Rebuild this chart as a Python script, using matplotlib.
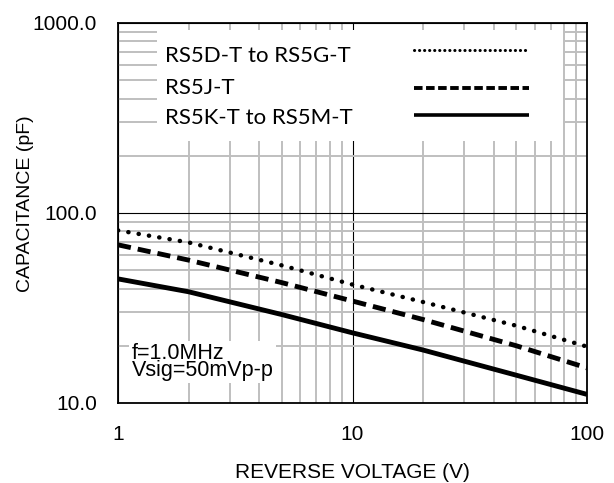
import matplotlib
matplotlib.use("Agg")
import matplotlib.pyplot as plt
from matplotlib.patches import Rectangle
from matplotlib.ticker import LogLocator, FixedLocator, NullFormatter

# ---------------------------------------------------------------------------
# Data
# ---------------------------------------------------------------------------
voltage = [1, 2, 5, 10, 20, 50, 100]
cap_d_to_g = [81, 70, 53, 42, 34, 25.5, 19.8]   # dotted
cap_j = [68, 56.5, 43, 34.4, 27.5, 20, 15.3]     # dashed
cap_k_to_m = [45, 38.5, 29.2, 23.4, 19.0, 14.0, 11.1]  # solid

series_names = ["RS5D-T to RS5G-T", "RS5J-T", "RS5K-T to RS5M-T"]
x_ticks = [1, 10, 100]
x_tick_labels = ["1", "10", "100"]
y_ticks = [10, 100, 1000]
y_tick_labels = ["10.0", "100.0", "1000.0"]

TICK_FONT = "Liberation Sans"
LEGEND_FONT = "Lato"

# ---------------------------------------------------------------------------
# Figure
# ---------------------------------------------------------------------------
fig = plt.figure(figsize=(6.14, 4.83), dpi=100)
ax = fig.add_axes([118 / 614, 1 - 403 / 483, 469 / 614, 380 / 483])
ax.set_xscale("log")
ax.set_yscale("log")
ax.set_xlim(1, 100)
ax.set_ylim(10, 1000)

# grid: grey minor lines, thin black decade lines
ax.xaxis.set_minor_locator(LogLocator(base=10, subs=range(2, 10)))
ax.yaxis.set_minor_locator(LogLocator(base=10, subs=range(2, 10)))
ax.xaxis.set_minor_formatter(NullFormatter())
ax.yaxis.set_minor_formatter(NullFormatter())
ax.grid(which="minor", color="#bfbfbf", linewidth=1.4, zorder=0)
ax.grid(which="major", color="black", linewidth=0.8, zorder=0)
ax.set_axisbelow(True)

ax.xaxis.set_major_locator(FixedLocator(x_ticks))
ax.yaxis.set_major_locator(FixedLocator(y_ticks))
ax.set_xticklabels(x_tick_labels)
ax.set_yticklabels(y_tick_labels)
ax.tick_params(which="both", length=0)
ax.tick_params(axis="x", pad=16)
ax.tick_params(axis="y", pad=15)
for lbl in ax.get_xticklabels() + ax.get_yticklabels():
    lbl.set_fontfamily(TICK_FONT)
    lbl.set_fontsize(15)

for sp in ax.spines.values():
    sp.set_linewidth(1.3)
    sp.set_zorder(6)

# curves
ax.plot(voltage, cap_d_to_g, color="black", linewidth=3.2,
        linestyle=(0, (0.05, 2.3)), dash_capstyle="round", zorder=4)
ax.plot(voltage, cap_j, color="black", linewidth=3.5,
        linestyle=(0, (2.7, 1.45)), dash_capstyle="butt", zorder=4)
ax.plot(voltage, cap_k_to_m, color="black", linewidth=3.5,
        solid_capstyle="butt", zorder=4)

# legend panel (white box with labels on the left, samples on the right)
ax.add_patch(Rectangle((0.083, 0.689), 0.866, 0.293, transform=ax.transAxes,
                       facecolor="white", edgecolor="none", zorder=2))
row_y = [0.912, 0.829, 0.750]
sample_y = [0.929, 0.829, 0.758]
styles = [dict(linestyle=(0, (0.05, 1.6)), linewidth=2.2, dash_capstyle="round"),
          dict(linestyle=(0, (2.2, 0.9)), linewidth=2.8, dash_capstyle="butt"),
          dict(linestyle="-", linewidth=2.6, solid_capstyle="butt")]
for name, ty, sy, st in zip(series_names, row_y, sample_y, styles):
    ax.text(0.100, ty, name, transform=ax.transAxes, ha="left", va="center",
            fontsize=16, family=LEGEND_FONT, zorder=5)
    ax.plot([0.631, 0.876], [sy, sy], transform=ax.transAxes,
            color="black", zorder=5, **st)

# measurement conditions
ax.text(0.029, 0.108, "f=1.0MHz\nVsig=50mVp-p", transform=ax.transAxes,
        ha="left", va="center", fontsize=15.5, family=TICK_FONT,
        linespacing=0.76, zorder=3,
        bbox=dict(facecolor="white", edgecolor="none", pad=1.5))

fig.text(352 / 614, 1 - 473 / 483, "REVERSE VOLTAGE (V)", ha="center",
         va="center", fontsize=15, family=TICK_FONT)
fig.text(25.5 / 614, 1 - 204 / 483, "CAPACITANCE (pF)", ha="center",
         va="center", rotation=90, fontsize=14, family=TICK_FONT)

fig.savefig("out.png", dpi=100)
